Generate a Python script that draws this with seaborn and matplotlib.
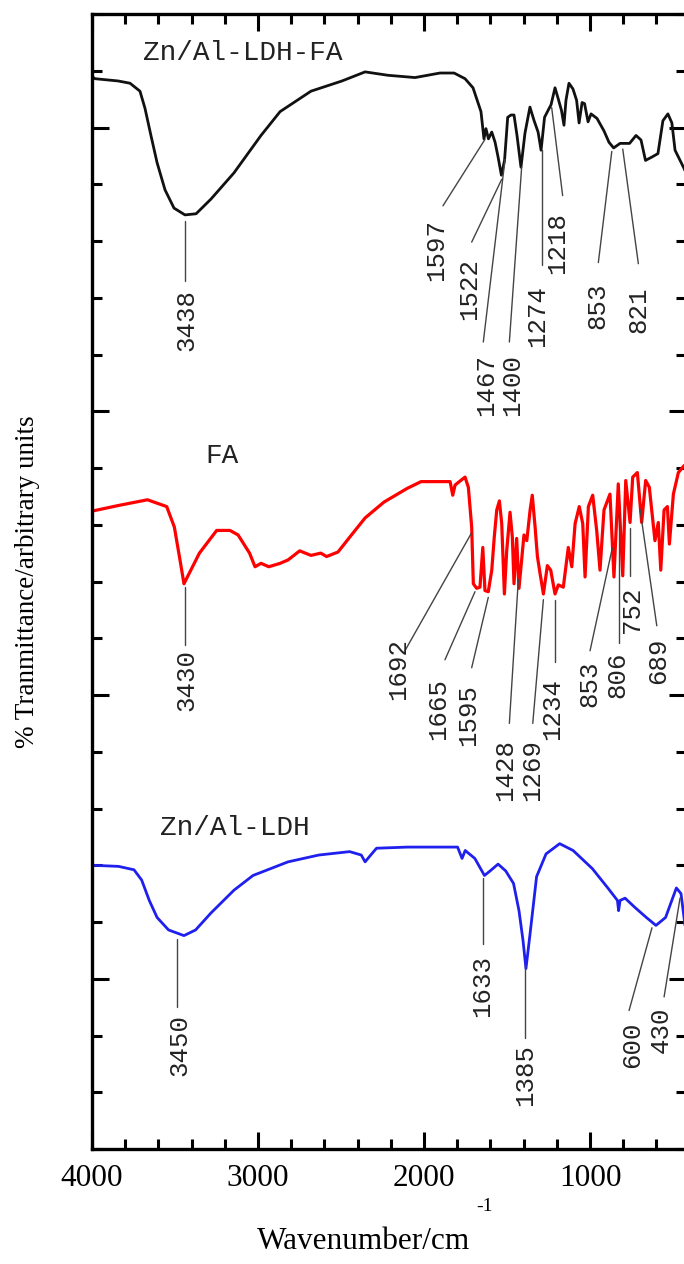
import numpy as np
import pandas as pd
import matplotlib
matplotlib.use("Agg")
import matplotlib.pyplot as plt
import seaborn as sns
from matplotlib.ticker import MultipleLocator, FixedLocator

# spectra: wavenumber (cm-1) and transmittance (arbitrary, 0-100 scale)
ldh_fa_wn = [4000, 3982, 3843, 3771, 3711, 3681, 3645, 3608, 3560, 3506, 3440, 3373, 3283, 3145,
             2982, 2867, 2681, 2494, 2355, 2217, 2054, 1904, 1819, 1753, 1705, 1657, 1639, 1627,
             1612, 1592, 1572, 1554, 1534, 1515, 1496, 1476, 1458, 1440, 1416, 1392, 1362, 1337,
             1313, 1295, 1274, 1253, 1235, 1211, 1193, 1172, 1157, 1145, 1127, 1103, 1081, 1066,
             1048, 1033, 1012, 994, 958, 916, 886, 858, 819, 762, 723, 693, 666, 627, 591, 561,
             531, 507, 488, 434, 422]
ldh_fa_t = [94.5, 94.3, 94.1, 93.9, 93.2, 91.7, 89.3, 86.9, 84.5, 82.9, 82.3, 82.4, 83.7, 86.0,
            89.3, 91.4, 93.2, 94.1, 94.9, 94.6, 94.4, 94.8, 94.8, 94.3, 93.5, 91.4, 89.0, 89.9,
            89.0, 89.6, 88.7, 87.4, 85.8, 87.1, 90.9, 91.1, 91.1, 89.3, 86.5, 89.5, 91.8, 90.6,
            89.6, 88.0, 90.9, 91.5, 92.0, 93.5, 92.6, 91.5, 90.2, 92.4, 93.9, 93.4, 92.4, 90.4,
            92.2, 92.1, 90.5, 91.2, 90.8, 89.7, 88.7, 88.2, 88.6, 88.6, 89.3, 88.9, 87.1, 87.4,
            87.7, 90.6, 91.2, 90.4, 88.0, 86.4, 86.0]

fa_wn = [4000, 3840, 3666, 3550, 3504, 3470, 3446, 3422, 3353, 3249, 3169, 3120, 3051, 3018,
         2982, 2935, 2867, 2819, 2749, 2681, 2622, 2587, 2518, 2448, 2355, 2241, 2102, 2018,
         1867, 1843, 1827, 1813, 1753, 1733, 1713, 1703, 1683, 1663, 1646, 1633, 1613, 1592,
         1577, 1562, 1546, 1532, 1516, 1502, 1482, 1468, 1458, 1442, 1428, 1412, 1398, 1381,
         1361, 1348, 1331, 1317, 1301, 1281, 1257, 1237, 1211, 1191, 1161, 1131, 1110, 1090,
         1065, 1044, 1030, 1010, 984, 960, 940, 916, 880, 856, 830, 803, 785, 759, 743, 715,
         689, 665, 643, 609, 589, 574, 554, 534, 522, 498, 468, 434, 422]
fa_t = [56.2, 56.7, 57.2, 56.6, 54.8, 51.9, 49.8, 50.5, 52.5, 54.5, 54.5, 54.1, 52.5, 51.3,
        51.6, 51.3, 51.6, 51.9, 52.7, 52.3, 52.5, 52.2, 52.6, 53.9, 55.6, 57.0, 58.2, 58.8,
        58.8, 58.8, 57.6, 58.5, 59.2, 58.3, 54.8, 49.8, 49.4, 49.5, 53.0, 49.2, 49.1, 51.0,
        53.9, 56.3, 57.1, 55.1, 48.9, 52.7, 56.1, 53.9, 49.8, 53.8, 49.4, 51.9, 54.1, 53.6,
        56.3, 57.6, 54.8, 52.2, 50.7, 48.9, 51.4, 51.0, 48.9, 49.7, 49.5, 53.0, 51.3, 55.1,
        56.6, 55.1, 50.4, 56.6, 57.6, 54.5, 51.0, 56.3, 57.7, 50.4, 58.6, 50.5, 58.9, 55.2,
        59.2, 59.6, 55.2, 58.9, 58.3, 53.6, 55.2, 51.0, 56.3, 56.6, 53.3, 57.7, 59.6, 60.2, 60.3]

ldh_wn = [4000, 3840, 3747, 3701, 3655, 3608, 3539, 3446, 3376, 3283, 3145, 3030, 2819, 2634,
          2448, 2378, 2355, 2321, 2286, 2100, 1798, 1771, 1752, 1694, 1636, 1602, 1554, 1508,
          1461, 1428, 1404, 1386, 1361, 1322, 1265, 1183, 1102, 986, 893, 835, 828, 819, 789,
          731, 661, 603, 545, 480, 452, 434, 422]
ldh_t = [25.0, 24.9, 24.6, 23.7, 21.9, 20.4, 19.3, 18.8, 19.3, 20.8, 22.8, 24.1, 25.3, 25.9,
         26.2, 25.9, 25.3, 25.9, 26.5, 26.6, 26.6, 25.6, 26.3, 25.6, 24.1, 24.5, 25.1, 24.5,
         23.4, 21.0, 18.4, 15.9, 19.0, 24.0, 26.0, 26.9, 26.3, 24.7, 23.0, 21.9, 21.0, 21.9,
         22.1, 21.3, 20.4, 19.7, 20.4, 23.0, 22.5, 20.4, 19.0]

# peak labels: (text, wn where leader meets curve, leader end wn, leader end t, text wn, text t)
ldh_fa_labels = [("3438", 3440, 3440, 76.5, 3434, 73.0),
                 ("1597", 1633, 1886, 83.1, 1928, 79.2),
                 ("1522", 1532, 1713, 79.9, 1729, 75.8),
                 ("1467", 1512, 1643, 71.1, 1627, 67.3),
                 ("1400", 1412, 1486, 71.1, 1470, 67.3),
                 ("1274", 1291, 1291, 77.9, 1319, 73.4),
                 ("1218", 1231, 1165, 84.0, 1199, 79.8),
                 ("853", 869, 950, 78.1, 958, 74.3),
                 ("821", 803, 709, 78.0, 711, 73.9)]
fa_labels = [("3430", 3440, 3440, 44.4, 3434, 41.3),
             ("1692", 1713, 2115, 43.9, 2157, 42.3),
             ("1665", 1693, 1874, 43.1, 1916, 38.8),
             ("1595", 1613, 1713, 42.4, 1735, 38.2),
             ("1428", 1432, 1486, 37.5, 1512, 33.4),
             ("1269", 1281, 1345, 37.5, 1349, 33.4),
             ("1234", 1211, 1211, 42.9, 1229, 38.8),
             ("853", 866, 1000, 43.9, 1006, 41.0),
             ("806", 823, 823, 44.6, 837, 41.8),
             ("752", 759, 759, 50.5, 747, 47.5),
             ("689", 699, 598, 46.1, 590, 43.0)]
ldh_labels = [("3450", 3488, 3488, 12.5, 3476, 9.2),
              ("1633", 1645, 1645, 18.1, 1651, 14.4),
              ("1385", 1392, 1392, 9.8, 1392, 6.5),
              ("600", 627, 765, 12.2, 747, 9.2),
              ("430", 458, 554, 13.4, 572, 10.5)]

names = ["Zn/Al-LDH-FA", "FA", "Zn/Al-LDH"]
name_pos = [(3693, 96.6), (3319, 61.1), (3590, 28.3)]

sns.set_theme(style="ticks")
plt.rcParams["font.family"] = ["Liberation Serif", "DejaVu Serif"]

fig = plt.figure(figsize=(6.84, 12.64), dpi=100)
ax = fig.add_axes([92 / 684, 115 / 1264, 594 / 684, 1135 / 1264])

spectra = [
    (ldh_fa_wn, ldh_fa_t, "#111111", 2.0, ldh_fa_labels),
    (fa_wn, fa_t, "#ff0000", 2.3, fa_labels),
    (ldh_wn, ldh_t, "#1f1fee", 2.0, ldh_labels),
]

for wn, t, color, lw, labels in spectra:
    df = pd.DataFrame({"wn": wn, "t": t})
    sns.lineplot(data=df, x="wn", y="t", sort=False, estimator=None,
                 color=color, linewidth=lw, ax=ax)
    xs = np.array(wn)[::-1]
    ys = np.array(t)[::-1]
    for text, tip, ex, ey, tx, ty in labels:
        tip_t = np.interp(tip, xs, ys) - 0.5
        ax.plot([tip, ex], [tip_t, ey], color="#444444", linewidth=1.0)
        ax.text(tx, ty, text, rotation=90, ha="center", va="center",
                fontsize=18.5, family="Liberation Mono", color="#222222")

for name, (x, y) in zip(names, name_pos):
    ax.text(x, y, name, ha="left", va="center", fontsize=20,
            family="Liberation Mono", color="#222222")

ax.set_xlim(4000, 422)
ax.set_ylim(0, 100)

ax.xaxis.set_major_locator(FixedLocator([4000, 3000, 2000, 1000]))
ax.xaxis.set_minor_locator(MultipleLocator(200))
ax.yaxis.set_major_locator(FixedLocator([15, 40, 65, 90]))
ax.yaxis.set_minor_locator(MultipleLocator(5))
ax.tick_params(axis="both", which="both", direction="in", top=True, right=True,
               width=2.2, color="black")
ax.tick_params(axis="both", which="major", length=12)
ax.tick_params(axis="both", which="minor", length=7)
ax.tick_params(axis="x", which="major", labelsize=22.5, pad=11, labelcolor="black")
ax.tick_params(axis="y", which="both", labelleft=False)

for sp in ax.spines.values():
    sp.set_linewidth(2.4)
    sp.set_color("black")

ax.set_xlabel("Wavenumber/cm", fontsize=22.5, color="black")
ax.xaxis.set_label_coords(0.457, -0.069)
ax.text(0.66, -0.051, "-1", transform=ax.transAxes, fontsize=14,
        ha="center", va="center", color="black")
ax.set_ylabel("% Tranmittance/arbitrary units", fontsize=19.5, color="black")
ax.yaxis.set_label_coords(-0.088, 0.5)

fig.savefig("out.png", dpi=100)
